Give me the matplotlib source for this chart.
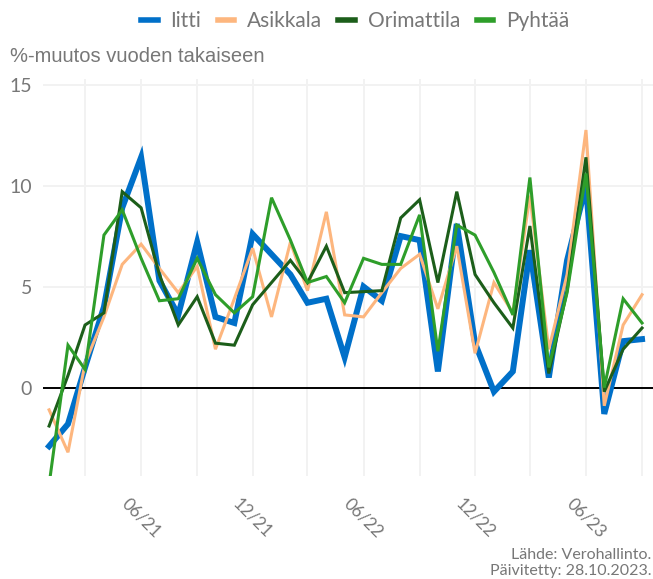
import numpy as np
import pandas as pd
import matplotlib
matplotlib.use('Agg')
import matplotlib.pyplot as plt
import matplotlib.dates as mdates

# monthly %-change, 01/2021 .. 09/2023
months = pd.date_range('2021-01-01', periods=33, freq='MS')

iitti = [-2.9, -1.8, 1.0, 4.0, 8.9, 11.4, 5.3, 3.6, 7.2, 3.5, 3.2, 7.6,
         6.6, 5.6, 4.2, 4.4, 1.5, 5.0, 4.3, 7.5, 7.3, 0.8, 8.1, 2.2,
         -0.2, 0.8, 6.8, 0.5, 6.3, 10.0, -1.3, 2.3, 2.4]
asikkala = [-1.1, -3.2, 1.2, 3.5, 6.1, 7.1, 5.9, 4.7, 6.0, 1.9, 4.4, 6.9,
            3.5, 7.2, 4.8, 8.7, 3.6, 3.5, 4.7, 5.9, 6.6, 3.9, 7.0, 1.7,
            5.2, 3.7, 9.5, 1.9, 5.6, 12.75, -0.9, 3.1, 4.6]
orimattila = [-1.9, 0.6, 3.1, 3.7, 9.7, 8.9, 5.6, 3.1, 4.5, 2.2, 2.1, 4.1,
              5.2, 6.3, 5.2, 7.0, 4.7, 4.75, 4.8, 8.4, 9.3, 5.2, 9.7, 5.6,
              4.2, 2.95, 8.0, 0.7, 4.8, 11.4, -0.2, 1.9, 2.95]
pyhtaa = [-4.8, 2.1, 0.9, 7.55, 8.8, 6.4, 4.3, 4.4, 6.4, 4.6, 3.7, 4.5,
          9.4, 7.3, 5.2, 5.5, 4.2, 6.4, 6.1, 6.1, 8.55, 1.8, 8.05, 7.55,
          5.7, 3.6, 10.4, 1.0, 4.7, 10.6, 0.0, 4.4, 3.2]

series = [('Iitti', iitti, '#0070C9', 4.3),
          ('Asikkala', asikkala, '#FDB67E', 2.2),
          ('Orimattila', orimattila, '#1C5E1A', 2.2),
          ('Pyhtää', pyhtaa, '#2E9E2A', 2.2)]

grey = '#777777'

fig = plt.figure(figsize=(6.53, 5.79), dpi=100)
ax = fig.add_axes([43/653, 0.1784, 1 - 43/653, 0.686])

for name, vals, col, lw in series:
    ax.plot(months, vals, color=col, lw=lw, label=name, solid_joinstyle='miter')

ax.axhline(0, color='black', lw=1.4, zorder=1)

ax.set_ylim(-4.36, 15.3)
ax.set_xlim(months[0] - pd.Timedelta(days=10), months[-1] + pd.Timedelta(days=18))
ax.set_yticks([0, 5, 10, 15])

ticks = pd.date_range('2021-03-01', '2023-09-01', freq='3MS')
ax.set_xticks(ticks)
ax.set_xticklabels([t.strftime('%m/%y') if t.month in (6, 12) else '' for t in ticks],
                   rotation=-45, ha='center', va='top')

ax.grid(True, color='#F2F2F2', lw=1.4, zorder=0)
ax.set_axisbelow(True)
for s in ax.spines.values():
    s.set_visible(False)
ax.tick_params(length=0, colors=grey)
ax.tick_params(axis='x', pad=14, labelsize=12.5)
ax.tick_params(axis='y', pad=8, labelsize=14)
for lab in ax.get_xticklabels() + ax.get_yticklabels():
    lab.set_fontfamily('Lato')

leg = fig.legend(loc='center', bbox_to_anchor=(355/653, 1 - 21/579), ncol=4,
                 frameon=False, handlelength=0.8, handletextpad=0.6,
                 columnspacing=0.8, prop={'family': 'Lato', 'size': 15})
for t in leg.get_texts():
    t.set_color(grey)
for h in leg.legend_handles:
    h.set_linewidth(4)

fig.text(10/653, 1 - 57/579, '%-muutos vuoden takaiseen', fontsize=14.5,
         family='Liberation Sans', color=grey, va='center', ha='left')

fig.text(1 - 2/653, 1 - 555/579, 'Lähde: Verohallinto.', fontsize=11.5,
         family='Lato', color=grey, ha='right', va='center')
fig.text(1 - 2/653, 1 - 571/579, 'Päivitetty: 28.10.2023.', fontsize=11.5,
         family='Lato', color=grey, ha='right', va='center')

fig.savefig('out.png', dpi=100)
